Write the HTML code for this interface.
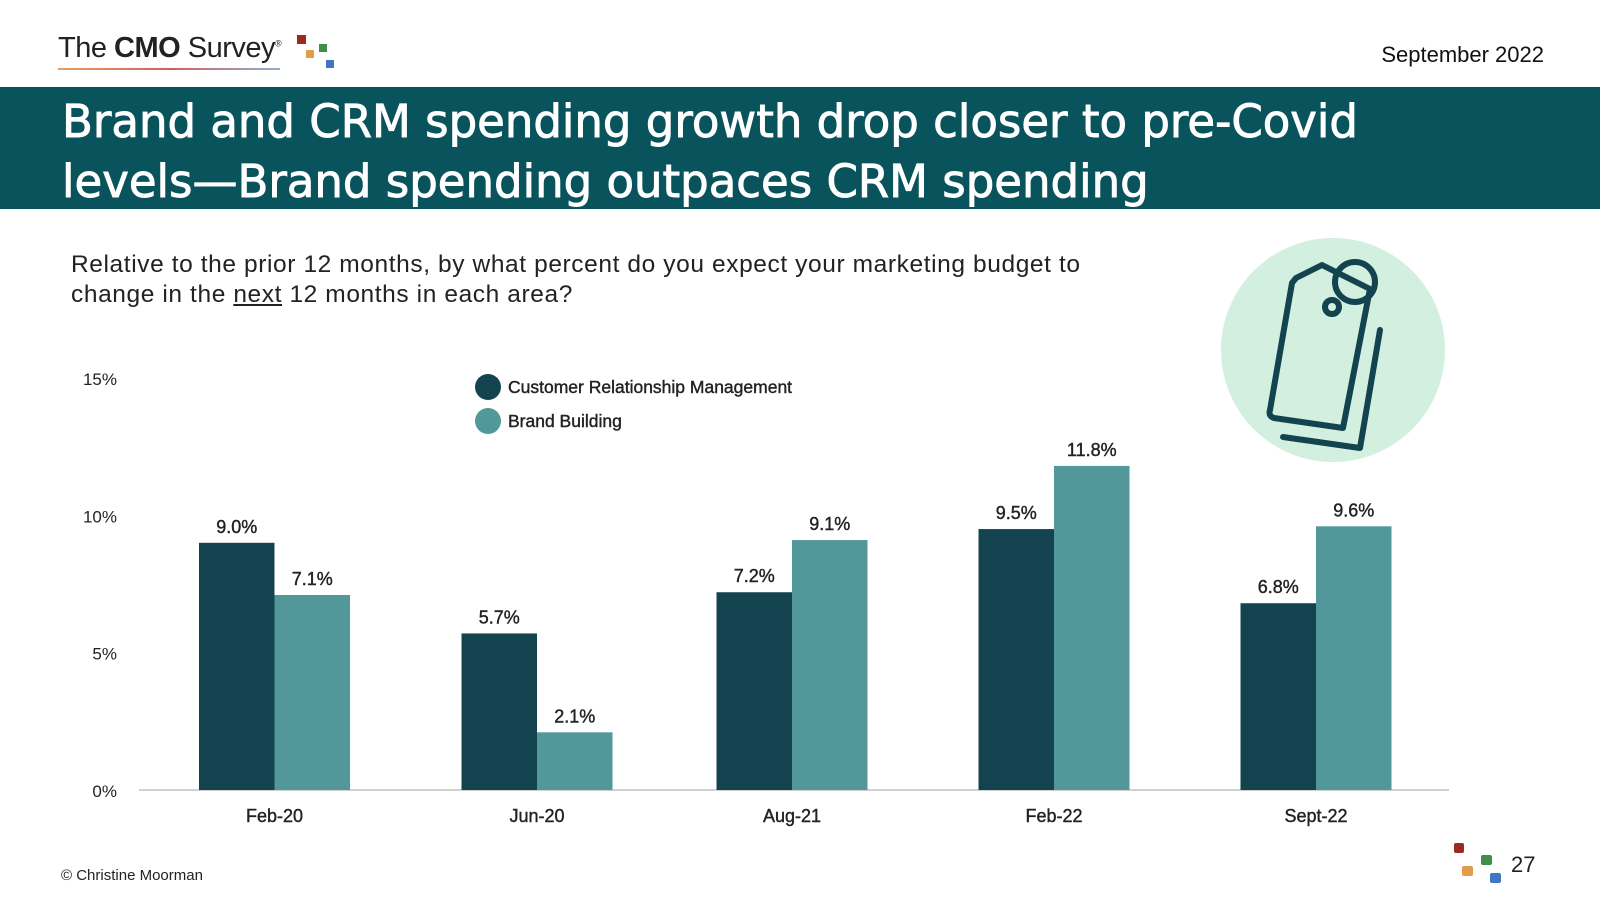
<!DOCTYPE html>
<html><head><meta charset="utf-8"><style>
body{margin:0;width:1600px;height:900px;background:#fff;overflow:hidden;position:relative;font-family:"Liberation Sans",sans-serif}
.abs{position:absolute}
</style></head><body>
<div class="abs" style="left:58px;top:32px;font-size:29px;color:#222;letter-spacing:-0.5px">The <b>CMO</b> Survey<sup style="font-size:9px">®</sup></div>
<div class="abs" style="left:58px;top:68px;width:222px;height:2px;background:linear-gradient(90deg,#e8a060,#d06060,#90b0d0)"></div>
<div class="abs" style="left:297px;top:35px;width:9px;height:9px;background:#9b2a22"></div>
<div class="abs" style="left:306px;top:50px;width:8px;height:8px;background:#e39c4a"></div>
<div class="abs" style="left:319px;top:44px;width:8px;height:8px;background:#3e8f4a"></div>
<div class="abs" style="left:326px;top:60px;width:8px;height:8px;background:#3d78c0"></div>
<div class="abs" style="right:56px;top:42px;font-size:22px;color:#111">September 2022</div>
<div class="abs" style="left:0;top:87px;width:1600px;height:122px;background:#08535c"></div>
<div class="abs" style="left:62px;top:92px;font-size:45px;line-height:60px;color:#fff;font-family:'DejaVu Sans',sans-serif;-webkit-text-stroke:0.9px #fff">Brand and CRM spending growth drop closer to pre-Covid<br>levels—Brand spending outpaces CRM spending</div>
<div class="abs" style="left:71px;top:250px;font-size:24.5px;line-height:30px;color:#222;letter-spacing:0.6px">Relative to the prior 12 months, by what percent do you expect your marketing budget to<br>change in the <u>next</u> 12 months in each area?</div>
<svg class="abs" style="left:0;top:0" width="1600" height="900">
<circle cx="1333" cy="350" r="112" fill="#d2efe0"/>
<g fill="none" stroke="#13434f" stroke-width="6" stroke-linejoin="round" stroke-linecap="round">
<path d="M1283,437 L1360,448 L1380,330"/>
<path d="M1296,278 L1322,265 L1370,289 L1343,428 L1274,418 Q1268,416 1270,410 L1292,283 Z"/>
<circle cx="1355" cy="282" r="20"/><circle cx="1332" cy="307" r="7"/>
</g>
<g id="g"></g>
</svg>
<div class="abs" style="left:61px;top:867px;font-size:15px;color:#222">© Christine Moorman</div>
<div class="abs" style="left:1454px;top:843px;width:10px;height:10px;background:#9b2a22;border-radius:2px"></div>
<div class="abs" style="left:1462px;top:866px;width:11px;height:10px;background:#e39c4a;border-radius:2px"></div>
<div class="abs" style="left:1481px;top:855px;width:11px;height:10px;background:#3e8f4a;border-radius:2px"></div>
<div class="abs" style="left:1490px;top:873px;width:11px;height:10px;background:#3d78c0;border-radius:2px"></div>
<div class="abs" style="left:1511px;top:852px;font-size:22px;color:#222">27</div>
<script>
const categories=["Feb-20","Jun-20","Aug-21","Feb-22","Sept-22"];
const crmValues=[9.0,5.7,7.2,9.5,6.8];
const brandValues=[7.1,2.1,9.1,11.8,9.6];
const tickValues=[0,5,10,15];
const tickLabels=["0%","5%","10%","15%"];
const seriesNames=["Customer Relationship Management","Brand Building"];
const ns="http://www.w3.org/2000/svg";
const g=document.getElementById('g');
const y0=790,pxPer=412/15,x0=139,x1=1449,bw=75.5;
const centers=[274.5,537,792,1054,1316];
const y=v=>y0-v*pxPer;
function mk(t,a,txt){const e=document.createElementNS(ns,t);for(const k in a)e.setAttribute(k,a[k]);if(txt!==undefined)e.textContent=txt;g.appendChild(e);return e;}
const ax=mk('line',{x1:x0,x2:x1,y1:y0,y2:y0,stroke:'#d0d0d0','stroke-width':2});


tickValues.forEach((v,i)=>{const t=mk('text',{x:117,y:y(v)+7,'text-anchor':'end','font-size':17,fill:'#222','font-family':'Liberation Sans'},tickLabels[i]);

});
categories.forEach((c,i)=>{
 const cx=centers[i];
 [[crmValues[i],'#13434f',cx-bw],[brandValues[i],'#52979a',cx]].forEach(([v,col,bx],k)=>{
  const r=mk('rect',{x:bx,y:y(v),width:bw,height:y0-y(v),fill:col});
  
  
  const l=mk('text',{x:bx+bw/2,y:y(v)-10,'text-anchor':'middle','font-size':18,fill:'#222','font-family':'Liberation Sans','stroke':'#222','stroke-width':0.4},v.toFixed(1)+'%');
  
  
 });
 const t=mk('text',{x:cx,y:822,'text-anchor':'middle','font-size':18,fill:'#222','font-family':'Liberation Sans','stroke':'#222','stroke-width':0.4},c);
 
 
});
['#13434f','#52979a'].forEach((col,i)=>{
 const c=mk('circle',{cx:488,cy:387+i*34,r:13,fill:col});
 
 
 const t=mk('text',{x:508,y:393+i*34,'font-size':17.5,fill:'#222','font-family':'Liberation Sans','stroke':'#222','stroke-width':0.4},seriesNames[i]);
 
 
});
</script>
</body></html>
